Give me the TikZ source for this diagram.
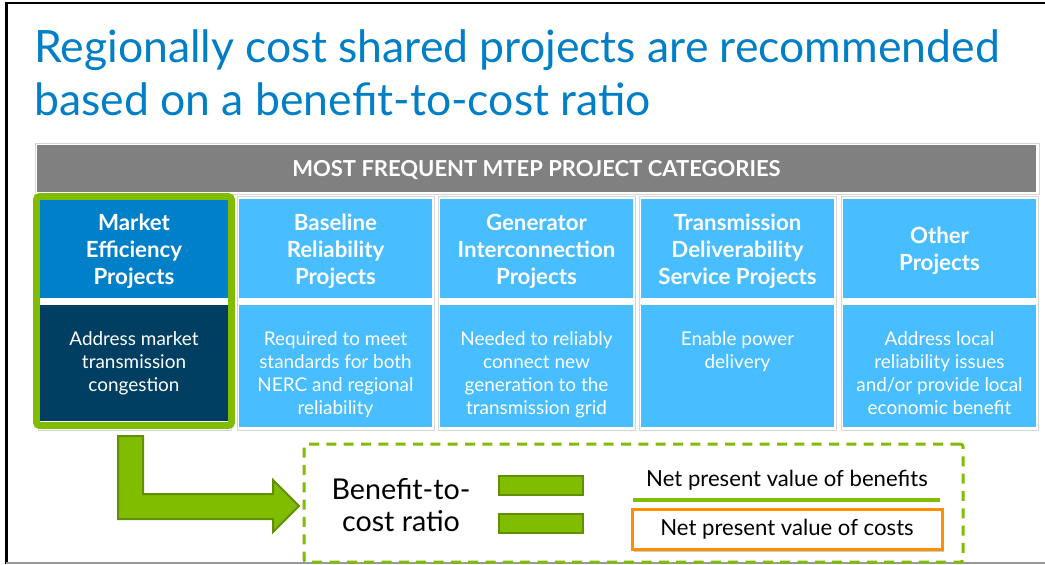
\documentclass[tikz,border=0pt]{standalone}
\usepackage{fontspec}
\setmainfont{Lato}
\usetikzlibrary{positioning,shadows}

\definecolor{titleblue}{RGB}{0,126,198}
\definecolor{bandgray}{RGB}{128,128,128}
\definecolor{marketblue}{RGB}{0,128,200}
\definecolor{navy}{RGB}{0,62,98}
\definecolor{skyblue}{RGB}{72,189,255}
\definecolor{leaf}{RGB}{128,188,0}
\definecolor{darkleaf}{RGB}{98,142,0}
\definecolor{amber}{RGB}{255,142,0}
\definecolor{rulegray}{RGB}{214,214,214}

% strut that pushes the head texts down a little
\newcommand{\headstrut}{\rule{0pt}{16pt}}

\tikzset{
  titletext/.style={anchor=base west, inner sep=0pt, text=titleblue,
    font=\fontsize{33.4}{40}\selectfont},
  headcell/.style={fill=skyblue, text=white, align=center, inner sep=0pt,
    minimum width=144.75pt, minimum height=74.25pt,
    font=\fontsize{16.7}{20.25}\selectfont\bfseries},
  bodybox/.style={fill=skyblue, inner sep=0pt,
    minimum width=144.75pt, minimum height=91.5pt},
  bodytext/.style={anchor=north, text=white, align=center, inner sep=0pt,
    font=\fontsize{14.2}{17.25}\selectfont},
  colrule/.style={draw=rulegray, line width=0.75pt},
  bar/.style={fill=leaf, draw=darkleaf, line width=1.5pt, inner sep=0pt,
    minimum width=63pt, minimum height=14.25pt},
  npv/.style={text=black, inner sep=0pt, font=\fontsize{16.6}{19}\selectfont}
}

\begin{document}
\begin{tikzpicture}[x=0.75pt, y=-0.75pt]
        \useasboundingbox (0,0) rectangle (1045,564);

        % frame of the slide
        \draw[line width=1.5pt] (6,3) -- (1045,3);
        \draw[line width=2.25pt] (6,2.2) -- (6,564);
        \draw[line width=1.5pt, gray!80] (6,562.5) -- (1045,562.5);

        % title
        \node[titletext] (title1) at (34,62) {Regionally cost shared projects are recommended};
        \node[titletext] (title2) at (34,115) {based on a benefit-to-cost ratio};

        % table header
        \draw[colrule] (35,143) rectangle (1039,194);
        \node[fill=bandgray, minimum width=749.25pt, minimum height=35.25pt, inner sep=0pt,
              text height=11.8pt, text depth=0pt,
              text=white, font=\fontsize{16.5}{18}\selectfont\bfseries] (band) at (536.5,168.5)
              {MOST FREQUENT MTEP PROJECT CATEGORIES};

        % column outlines
        \draw[colrule] (38,196) rectangle (231,430);
        \draw[colrule] (237,196) rectangle (434,430);
        \draw[colrule] (438,196) rectangle (635,430);
        \draw[colrule] (639,196) rectangle (836,430);
        \draw[colrule] (841,196) rectangle (1038,430);

        % category heads
        \node[headcell, fill=marketblue, minimum width=141pt, minimum height=73.5pt] (head1) at (134,249)
              {\headstrut Market\\Efficiency\\Projects};
        \node[headcell] (head2) at (335.5,248.5) {\headstrut Baseline\\Reliability\\Projects};
        \node[headcell] (head3) at (536.5,248.5) {\headstrut Generator\\Interconnection\\Projects};
        \node[headcell] (head4) at (737.5,248.5) {\headstrut Transmission\\Deliverability\\Service Projects};
        \node[headcell] (head5) at (939.5,248.5) {\headstrut Other\\Projects};

        % category bodies
        \node[bodybox, fill=navy, minimum width=141pt, minimum height=87pt] (body1) at (134,363) {};
        \node[bodybox] (body2) at (335.5,366) {};
        \node[bodybox] (body3) at (536.5,366) {};
        \node[bodybox] (body4) at (737.5,366) {};
        \node[bodybox] (body5) at (939.5,366) {};

        \node[bodytext] (desc1) at (134,331) {Address market\\transmission\\congestion};
        \node[bodytext] (desc2) at (335.5,331) {Required to meet\\standards for both\\NERC and regional\\reliability};
        \node[bodytext] (desc3) at (536.5,331) {Needed to reliably\\connect new\\generation to the\\transmission grid};
        \node[bodytext] (desc4) at (737.5,331) {Enable power\\delivery};
        \node[bodytext] (desc5) at (939.5,331) {Address local\\reliability issues\\and/or provide local\\economic benefit};

        % highlight of market efficiency
        \draw[leaf, line width=4.9pt, rounded corners=2pt] (36.5,196.5) rectangle (231.5,425.5);

        % bent arrow
        \draw[fill=leaf, draw=darkleaf, line width=1.5pt, line join=miter]
              (118,436) -- (143,436) -- (143,494) -- (273,494) -- (273,480) -- (299,506)
              -- (273,532) -- (273,519) -- (118,519) -- cycle;

        % ratio box
        \node[draw=leaf, line width=2.25pt, dash pattern=on 7.5pt off 5.5pt, rounded corners=2pt,
              minimum width=494.25pt, minimum height=88.5pt, inner sep=0pt] (ratio) at (633.5,503) {};
        \node[align=center, inner sep=0pt, font=\fontsize{21.5}{24}\selectfont] (bcr) at (401,505.5)
              {Benefit-to-\\cost ratio};
        \node[bar] (eqtop) at (541,485.5) {};
        \node[bar] (eqbot) at (541,523) {};
        \node[npv] (benefits) at (787,480) {Net present value of benefits};
        \node[npv, draw=amber, line width=2.25pt, fill=white, minimum width=232.5pt, minimum height=30pt,
              drop shadow={opacity=0.4, shadow xshift=1.5pt, shadow yshift=-1.5pt}] (costs) at (787,529.5)
              {Net present value of costs};
        \coordinate (fracL) at (633,499.5);
        \coordinate (fracR) at (940,499.5);
        \draw[leaf, line width=3pt] (fracL) -- (fracR);

    \end{tikzpicture}
\end{document}
